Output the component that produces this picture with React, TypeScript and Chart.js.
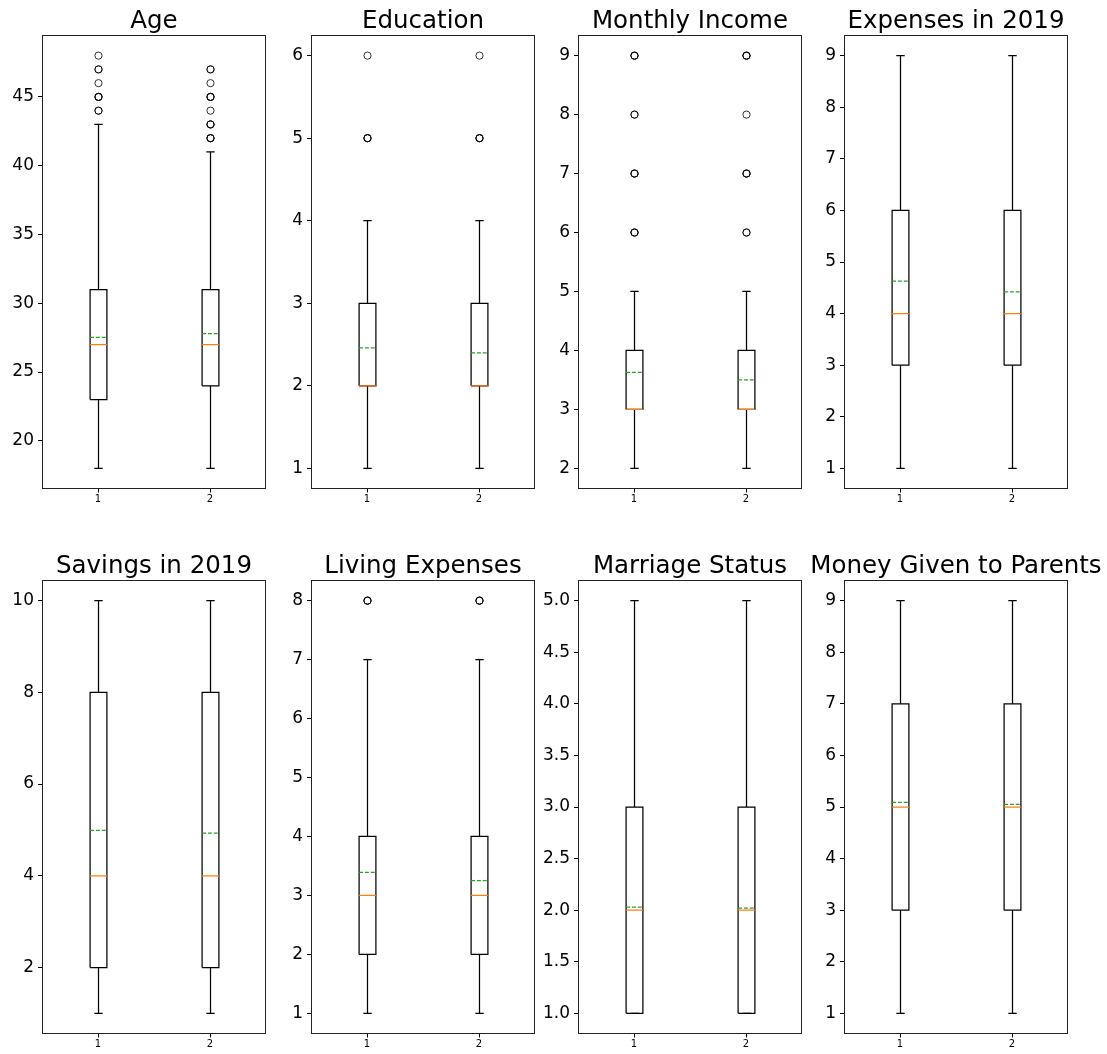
import React, { useEffect, useRef } from 'react';
import { Chart, registerables } from 'chart.js';

Chart.register(...registerables);
Chart.defaults.font.family = "'DejaVu Sans', sans-serif";

// ---------- data ----------
const titles = [
  'Age',
  'Education',
  'Monthly Income',
  'Expenses in 2019',
  'Savings in 2019',
  'Living Expenses',
  'Marriage Status',
  'Money Given to Parents',
];
const groupLabels = ['1', '2'];

const whiskerLow = [[18, 18], [1, 1], [2, 2], [1, 1], [1, 1], [1, 1], [1, 1], [1, 1]];
const quartile1 = [[23, 24], [2, 2], [3, 3], [3, 3], [2, 2], [2, 2], [1, 1], [3, 3]];
const medians = [[27, 27], [2, 2], [3, 3], [4, 4], [4, 4], [3, 3], [2, 2], [5, 5]];
const means = [[27.53, 27.8], [2.46, 2.4], [3.63, 3.5], [4.63, 4.42], [4.99, 4.93], [3.39, 3.25], [2.03, 2.02], [5.09, 5.05]];
const quartile3 = [[31, 31], [3, 3], [4, 4], [6, 6], [8, 8], [4, 4], [3, 3], [7, 7]];
const whiskerHigh = [[43, 41], [4, 4], [5, 5], [9, 9], [10, 10], [7, 7], [5, 5], [9, 9]];
const fliers = [
  [[44, 44, 45, 45, 45, 46, 47, 47, 48], [42, 42, 42, 43, 43, 43, 44, 45, 45, 45, 46, 47, 47]],
  [[5, 5, 5, 6], [5, 5, 5, 6]],
  [[6, 6, 6, 7, 7, 7, 8, 8, 9, 9, 9], [6, 6, 7, 7, 7, 8, 9, 9, 9]],
  [[], []],
  [[], []],
  [[8, 8, 8], [8, 8, 8]],
  [[], []],
  [[], []],
];
const yTicks = [
  [20, 25, 30, 35, 40, 45],
  [1, 2, 3, 4, 5, 6],
  [2, 3, 4, 5, 6, 7, 8, 9],
  [1, 2, 3, 4, 5, 6, 7, 8, 9],
  [2, 4, 6, 8, 10],
  [1, 2, 3, 4, 5, 6, 7, 8],
  [1, 1.5, 2, 2.5, 3, 3.5, 4, 4.5, 5],
  [1, 2, 3, 4, 5, 6, 7, 8, 9],
];
const yTickDecimals = [0, 0, 0, 0, 0, 0, 1, 0];

// ---------- layout / style ----------
const PLOT_LEFTS = [42, 311, 578, 844];
const PLOT_TOPS = [35, 580];
const PLOT_W = 224;
const PLOT_H = 454;
const Y_AXIS_W = 42;
const TITLE_H = 35;
const X_AXIS_H = 20;
const CANVAS_W = Y_AXIS_W * 2 + PLOT_W;
const CANVAS_H = TITLE_H + PLOT_H + X_AXIS_H;
const BOX_W = 0.15;
const MEDIAN_COLOR = '#ff7f0e';
const MEAN_COLOR = '#2ca02c';
const LINE_COLOR = '#000000';
const LINE_W = 1.25;

const framePlugin = {
  id: 'frame',
  beforeDatasetsDraw(chart: any) {
    chart.ctx.save();
    chart.ctx.translate(0.5, 0);
  },
  afterDatasetsDraw(chart: any) {
    chart.ctx.restore();
  },
  afterDraw(chart: any) {
    const { ctx, chartArea } = chart;
    ctx.save();
    ctx.strokeStyle = '#222';
    ctx.lineWidth = 1;
    ctx.strokeRect(
      Math.round(chartArea.left) + 0.5,
      Math.round(chartArea.top) + 0.5,
      Math.round(chartArea.right - chartArea.left) - 1,
      Math.round(chartArea.bottom - chartArea.top) - 1
    );
    ctx.restore();
  },
};

function seg(points: number[][], color: string, dash: number[] = []) {
  return {
    type: 'scatter' as const,
    data: points.map(([x, y]) => ({ x, y })),
    showLine: true,
    borderColor: color,
    borderWidth: LINE_W,
    borderDash: dash,
    pointRadius: 0,
    fill: false,
    tension: 0,
  };
}

function buildDatasets(i: number) {
  const ds: any[] = [];
  const hw = BOX_W / 2;
  const cw = BOX_W / 4;
  groupLabels.forEach((_, g) => {
    const p = g + 1;
    const q1 = quartile1[i][g];
    const q3 = quartile3[i][g];
    const lo = whiskerLow[i][g];
    const hi = whiskerHigh[i][g];
    ds.push(seg([[p - hw, q1], [p + hw, q1], [p + hw, q3], [p - hw, q3], [p - hw, q1]], LINE_COLOR));
    if (lo < q1) ds.push(seg([[p, q1], [p, lo]], LINE_COLOR));
    if (hi > q3) ds.push(seg([[p, q3], [p, hi]], LINE_COLOR));
    ds.push(seg([[p - cw, lo], [p + cw, lo]], LINE_COLOR));
    ds.push(seg([[p - cw, hi], [p + cw, hi]], LINE_COLOR));
    ds.push(seg([[p - hw, medians[i][g]], [p + hw, medians[i][g]]], MEDIAN_COLOR));
    ds.push(seg([[p - hw, means[i][g]], [p + hw, means[i][g]]], MEAN_COLOR, [4, 1.8]));
    if (fliers[i][g].length) {
      ds.push({
        type: 'scatter' as const,
        data: fliers[i][g].map((v) => ({ x: p, y: v })),
        showLine: false,
        pointStyle: 'circle',
        pointRadius: 3.6,
        borderWidth: 1,
        borderColor: 'rgba(0,0,0,0.8)',
        backgroundColor: 'rgba(0,0,0,0)',
      });
    }
  });
  // Chart.js paints dataset 0 last (on top); reverse so medians/means sit above boxes
  return ds.reverse();
}

function Panel({ index }: { index: number }) {
  const ref = useRef<HTMLCanvasElement>(null);
  useEffect(() => {
    if (!ref.current) return;
    const allVals = [...whiskerLow[index], ...whiskerHigh[index], ...fliers[index][0], ...fliers[index][1]];
    const vmin = Math.min(...allVals);
    const vmax = Math.max(...allVals);
    const pad = (vmax - vmin) * 0.05;
    const dec = yTickDecimals[index];
    const tickGrid = { display: true, drawOnChartArea: false, drawTicks: true, color: '#000', lineWidth: 1 };
    const chart = new Chart(ref.current, {
      type: 'scatter',
      data: { datasets: buildDatasets(index) },
      options: {
        responsive: false,
        animation: false,
        devicePixelRatio: 1,
        events: [],
        layout: { padding: 0 },
        plugins: {
          legend: { display: false },
          tooltip: { enabled: false },
          title: {
            display: true,
            text: titles[index],
            color: '#000',
            font: { size: 24.5, weight: 'normal' as const, family: "'DejaVu Sans', sans-serif", lineHeight: 1.1 },
            padding: { top: 7.8, bottom: 0.25 },
          },
        },
        scales: {
          x: {
            type: 'linear',
            min: 0.5,
            max: 2.5,
            afterBuildTicks: (s: any) => {
              s.ticks = groupLabels.map((_, g) => ({ value: g + 1 }));
            },
            afterFit: (s: any) => {
              s.height = X_AXIS_H;
            },
            ticks: {
              color: '#000',
              font: { size: 10 },
              padding: 1,
              maxRotation: 0,
              autoSkip: false,
              callback: (_v: any, idx: number) => groupLabels[idx],
            },
            grid: { ...tickGrid, tickLength: 3.5 },
            border: { display: false },
          },
          y: {
            type: 'linear',
            position: 'left',
            min: vmin - pad,
            max: vmax + pad,
            afterBuildTicks: (s: any) => {
              s.ticks = yTicks[index].map((v) => ({ value: v }));
            },
            afterFit: (s: any) => {
              s.width = Y_AXIS_W;
            },
            ticks: {
              color: '#000',
              font: { size: 17 },
              padding: 4,
              autoSkip: false,
              callback: (v: any) => Number(v).toFixed(dec),
            },
            grid: { ...tickGrid, tickLength: 4 },
            border: { display: false },
          },
          y2: {
            type: 'linear',
            position: 'right',
            display: true,
            afterFit: (s: any) => {
              s.width = Y_AXIS_W;
            },
            ticks: { display: false },
            grid: { display: false },
            border: { display: false },
          },
        },
      } as any,
      plugins: [framePlugin],
    });
    return () => chart.destroy();
  }, [index]);

  const col = index % 4;
  const row = Math.floor(index / 4);
  return (
    <div
      style={{
        position: 'absolute',
        left: PLOT_LEFTS[col] - Y_AXIS_W,
        top: PLOT_TOPS[row] - TITLE_H,
        width: CANVAS_W,
        height: CANVAS_H,
      }}
    >
      <canvas ref={ref} width={CANVAS_W} height={CANVAS_H} style={{ display: 'block' }} />
    </div>
  );
}

export default function App() {
  return (
    <div
      style={{
        position: 'fixed',
        left: 0,
        top: 0,
        width: 1107,
        height: 1054,
        overflow: 'hidden',
        background: '#fff',
      }}
    >
      {titles.map((_, i) => (
        <Panel key={i} index={i} />
      ))}
    </div>
  );
}
